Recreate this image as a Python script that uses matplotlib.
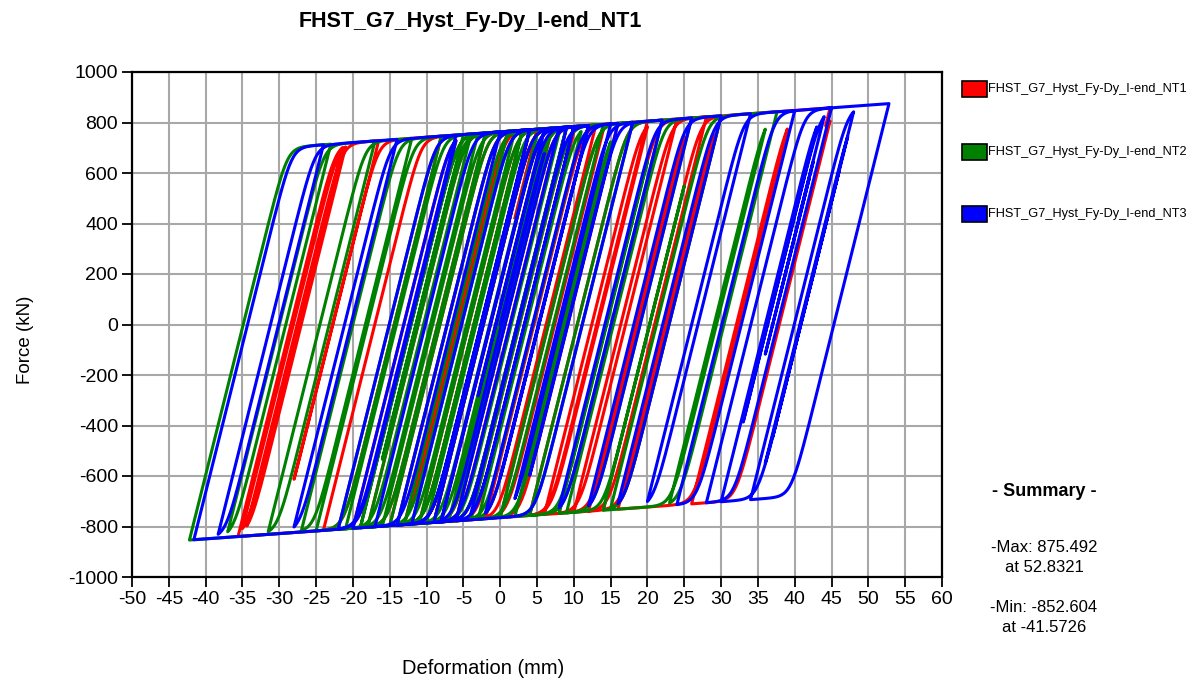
import numpy as np
import matplotlib
matplotlib.use("Agg")
import matplotlib.pyplot as plt
from matplotlib.patches import Rectangle

plt.rcParams["font.family"] = ["Liberation Sans", "DejaVu Sans"]
plt.rcParams["axes.unicode_minus"] = False

# ---- data ----
series_names = ["FHST_G7_Hyst_Fy-Dy_I-end_NT1",
                "FHST_G7_Hyst_Fy-Dy_I-end_NT2",
                "FHST_G7_Hyst_Fy-Dy_I-end_NT3"]
series_colors = ["#ff0000", "#008000", "#0000ff"]

# yield envelopes (deformation mm, force kN)
top_env_x = [-50.0, 60.0]
top_env_y = [657.0, 890.0]
bot_env_x = [-50.0, 60.0]
bot_env_y = [-870.0, -639.0]
elastic_k = 117.0      # kN/mm, slope of unloading branches

# reversal deformations (mm) of each record
nt1_rev = [0, 5, -6, 9, -9, 13, -14, 4, -20, -6, -35.6, -21.4, -35.0, -21.0,
           -34.4, -16.5, -28, -8, -24, -2, -18, 3, -13, 8, -9, 12, -6, 16,
           -2, 20, 4, 24, 8, 28, 10, 30, 14, 44.8, 44.2, 44.8, 26, 39, 16,
           29, 12, 25, 6, 20, 0, 14, -4, 10, -8, 7, -11, 4, -15, 1, -12, 5,
           2]
nt2_rev = [0, 5, -6, 9, -11, 7, -15, 3, -19, -4, -25, -8, -42.2, -23,
           -37.0, -17, -31.5, -12, -27, -3, -22, 2, -19, 4, -16, 6, -13, 9,
           -10, 12, -7, 14, -4, 18, 0, 22, 4, 26, 9, 30, 15, 37.6, 23, 36,
           14, 25, 8, 20, 2, 15, -3, 11, -6, 8, -9, 5, -12, 3, -14, 1, -18,
           -2, -21, -5, -16, 0]
nt3_rev = [0, 6, -8, 10, -14, 4, -20, -6, -41.6, -24, -38.3, -14, -28, -6,
           -22, 0, -17, 4, -12, 8, -8, 10, -4, 12, -2, 15, 2, 18, -6, 9, -9,
           6, -3, 12, 0, 16, 4, 22, 8, 26, 12, 30, 16, 34, 20, 40, 24, 45,
           28, 52.8, 34, 48, 36, 47.2, 37, 46, 38.5, 45, 30, 43, 33, 44,
           40.5, 42.5, 36, 42, 38]
all_rev = [nt1_rev, nt2_rev, nt3_rev]

summary_max = (875.492, 52.8321)
summary_min = (-852.604, -41.5726)


def trace_loops(rev, k=elastic_k, r=75.0, step=0.15):
    """Bilinear path through the reversal points with rounded knees."""
    x0, f0 = rev[0], 0.0
    xs, fs = [x0], [f0]
    for xt in rev[1:]:
        n = max(int(abs(xt - x0) / step), 2)
        seg = np.linspace(x0, xt, n + 1)[1:]
        if xt > x0:
            el = f0 + k * (seg - x0)
            env = np.interp(seg, top_env_x, top_env_y)
            fseg = -r * np.logaddexp(-el / r, -env / r)
        else:
            el = f0 - k * (x0 - seg)
            env = np.interp(seg, bot_env_x, bot_env_y)
            fseg = r * np.logaddexp(el / r, env / r)
        xs.extend(seg)
        fs.extend(fseg)
        x0, f0 = xt, fseg[-1]
    return np.array(xs), np.array(fs)


fig = plt.figure(figsize=(11.89, 6.79), dpi=100)
ax = fig.add_axes([132 / 1189, 1 - 577 / 679, 810 / 1189, 505 / 679])

for rev, col in zip(all_rev, series_colors):
    x, f = trace_loops(rev)
    ax.plot(x, f, color=col, lw=2.2, solid_joinstyle="round", zorder=3)

ax.set_xlim(-50, 60)
ax.set_ylim(-1000, 1000)
ax.set_xticks(np.arange(-50, 61, 5))
ax.set_yticks(np.arange(-1000, 1001, 200))
ax.grid(True, color="#a8a8a8", lw=1.5, zorder=0)
ax.set_axisbelow(True)
for s in ax.spines.values():
    s.set_color("black")
    s.set_linewidth(1.6)
ax.tick_params(direction="out", length=7, width=1.3, labelsize=14,
               colors="black", pad=3)

ax.set_xlabel("Deformation (mm)", fontsize=14.5)
ax.xaxis.set_label_coords((483 - 132) / 810, (577 - 668) / 505)
ax.xaxis.label.set_va("center")
ax.set_ylabel("Force (kN)", fontsize=13.5)
ax.yaxis.set_label_coords((25 - 132) / 810, (577 - 340) / 505)
ax.yaxis.label.set_va("center")

fig.text(470 / 1189, 1 - 22 / 679, "FHST_G7_Hyst_Fy-Dy_I-end_NT1",
         ha="center", va="center", fontsize=15.5, fontweight="bold")

# legend on the right, drawn by hand
leg_y = [89, 152, 214]
for name, col, yy in zip(series_names, series_colors, leg_y):
    fig.patches.append(Rectangle((962 / 1189, 1 - (yy + 8) / 679), 25 / 1189,
                                 16 / 679, transform=fig.transFigure,
                                 facecolor=col, edgecolor="black", lw=1.2))
    fig.text(988 / 1189, 1 - yy / 679, name, ha="left", va="center",
             fontsize=9.2)

# summary block
cx = 1044 / 1189
fig.text(cx, 1 - 491 / 679, "- Summary -", ha="center", va="center",
         fontsize=13, fontweight="bold")
fig.text(cx, 1 - 548 / 679, f"-Max: {summary_max[0]:.3f}", ha="center",
         va="center", fontsize=12)
fig.text(cx, 1 - 567 / 679, f"at {summary_max[1]:.4f}", ha="center",
         va="center", fontsize=12)
fig.text(cx, 1 - 608 / 679, f"-Min: {summary_min[0]:.3f}", ha="center",
         va="center", fontsize=12)
fig.text(cx, 1 - 627 / 679, f"at {summary_min[1]:.4f}", ha="center",
         va="center", fontsize=12)

fig.savefig("out.png", dpi=100)
